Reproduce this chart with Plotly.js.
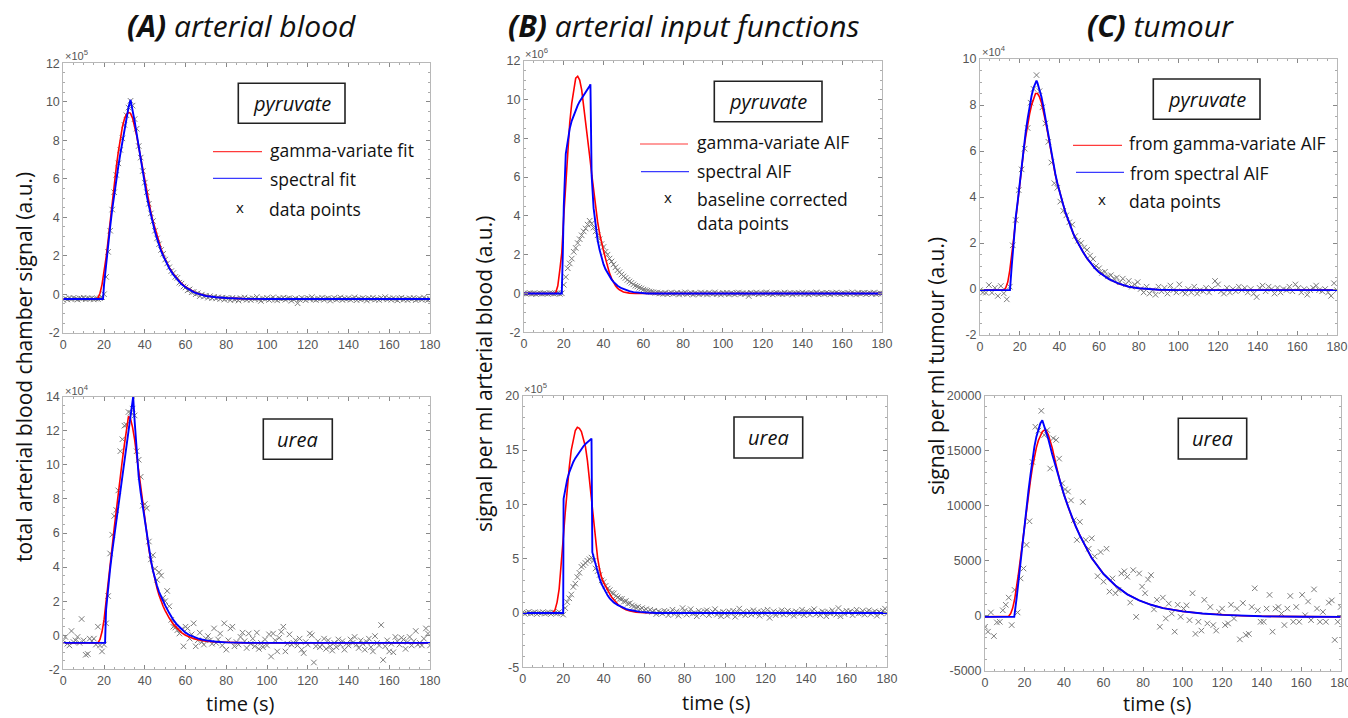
<!DOCTYPE html>
<html><head><meta charset="utf-8">
<script src="https://cdn.plot.ly/plotly-3.0.1.min.js"></script>
<style>html,body{margin:0;padding:0;background:#fff;}#chart{width:1348px;height:718px;}</style>
</head><body><div id="chart"></div>
<script>
// ---------------- DATA ----------------
// sampling of measured points (s)
const DT_BLOOD = 1;      // panels A and B
const DT_TUMOUR = 1.5;   // panel C

// (A) arterial blood, pyruvate (x10^5)
const A_PYR_POINTS = [
-0.30,-0.22,-0.27,-0.20,-0.25,-0.19,-0.24,-0.28,-0.21,-0.23,-0.18,-0.26,-0.22,-0.24,-0.20,-0.27,-0.23,-0.25,-0.21,-0.15,
0.00,0.90,2.20,3.30,4.40,5.30,6.20,6.80,7.50,8.10,8.80,9.30,9.70,10.05,9.80,9.10,8.60,7.70,7.10,6.40,
5.80,5.30,4.70,4.20,3.80,3.30,2.90,2.60,2.30,2.10,1.80,1.60,1.40,1.20,1.10,0.90,0.85,0.60,0.55,0.40,
0.35,0.20,0.25,0.10,0.12,0.00,0.05,-0.10,-0.02,-0.12,-0.08,-0.18,-0.10,-0.20,-0.14,-0.22,-0.16,-0.25,-0.18,-0.28,-0.20,
-0.22,-0.31,-0.19,-0.27,-0.24,-0.33,-0.20,-0.26,-0.17,-0.29,
-0.23,-0.30,-0.21,-0.25,-0.14,-0.28,-0.35,-0.22,-0.26,-0.19,
-0.30,-0.24,-0.16,-0.27,-0.32,-0.21,-0.25,-0.18,-0.29,-0.23,
-0.20,-0.34,-0.26,-0.22,-0.47,-0.28,-0.19,-0.25,-0.31,-0.20,
-0.24,-0.15,-0.27,-0.30,-0.22,-0.26,-0.18,-0.29,-0.23,-0.21,
-0.33,-0.25,-0.19,-0.28,-0.24,-0.17,-0.30,-0.22,-0.26,-0.20,
-0.29,-0.24,-0.16,-0.31,-0.23,-0.27,-0.20,-0.25,-0.33,-0.21,
-0.26,-0.18,-0.28,-0.24,-0.30,-0.19,-0.25,-0.15,-0.27,-0.22,
-0.29,-0.20,-0.26,-0.32,-0.23,-0.18,-0.28,-0.24,-0.30,-0.21,
-0.26,-0.19,-0.31,-0.25,-0.22,-0.28,-0.17,-0.27,-0.30,-0.24];
const A_PYR_GAMMA_T = [0,10,16,17,18,19,20,21,22,23,24,25,26,27,28,29,30,31,32,33,34,35,36,37,38,39,40,41,42,43,44,45,46,47,48,49,50,52,54,56,58,60,62,64,66,68,70,75,80,90,100,180];
const A_PYR_GAMMA = [-0.25,-0.25,-0.25,-0.2,0.05,0.5,1.1,1.9,2.8,3.8,4.8,5.7,6.6,7.4,8.1,8.7,9.1,9.35,9.45,9.4,9.15,8.75,8.25,7.65,7.05,6.45,5.85,5.3,4.75,4.25,3.8,3.4,3.0,2.65,2.35,2.05,1.8,1.38,1.05,0.78,0.56,0.38,0.24,0.13,0.04,-0.03,-0.08,-0.16,-0.2,-0.24,-0.25,-0.25];
const A_PYR_SPEC_T = [0,10,19.5,20,21,22,23,24,25,26,27,28,29,30,31,32,33,34,35,36,37,38,39,40,41,42,43,44,45,46,47,48,49,50,52,54,56,58,60,62,64,66,68,70,75,80,90,100,180];
const A_PYR_SPEC = [-0.25,-0.25,-0.25,0.5,1.6,2.6,3.5,4.4,5.2,5.95,6.65,7.3,7.95,8.6,9.2,9.7,10.1,9.6,9.0,8.35,7.65,6.95,6.3,5.7,5.1,4.6,4.1,3.65,3.25,2.9,2.55,2.25,2.0,1.75,1.35,1.02,0.75,0.53,0.36,0.22,0.11,0.03,-0.04,-0.09,-0.16,-0.2,-0.24,-0.25,-0.25];

// (A) arterial blood, urea (x10^4)
const A_UREA_POINTS = [
-0.30,-0.10,-0.50,-0.60,0.25,-0.40,-0.30,-0.10,-0.45,0.95,
-0.30,-1.15,-1.10,-0.20,-0.35,-0.20,-0.55,0.50,-0.60,-0.95,
-0.55,0.70,2.30,4.80,5.90,7.00,7.35,8.50,10.80,11.50,
12.30,12.35,13.10,13.05,13.30,12.90,10.80,10.30,9.30,7.60,
7.70,7.45,5.50,4.45,4.70,3.90,3.25,3.70,3.50,2.20,
2.00,2.60,1.70,0.90,0.50,0.45,0.30,0.10,0.35,-0.65,
0.50,0.40,-0.20,0.05,0.70,-0.65,-0.30,0.15,-0.40,-0.55,
-0.20,-0.05,-0.30,-0.50,0.40,-0.45,-0.25,0.10,-0.60,0.70,
-0.85,-0.30,0.40,0.50,-0.65,-0.40,-0.55,-0.10,0.15,-0.35,
-0.75,0.10,-0.50,-0.20,-0.65,0.15,-0.80,-0.45,-0.70,-0.25,
-0.60,0.05,-1.25,0.10,-0.30,-0.95,-0.15,0.20,0.50,-0.95,
-0.50,0.05,-0.55,-0.45,-0.30,-0.60,-0.20,-0.85,-1.05,-0.40,
-0.55,0.10,0.00,-1.60,-0.65,-0.35,-0.70,-0.55,-0.20,-0.80,
-0.30,-0.65,-0.90,-0.45,-0.70,-0.25,-0.55,-0.35,-0.85,-0.50,
-0.60,-0.25,-0.45,-0.10,-0.55,-0.75,-0.30,-0.50,-0.85,-0.40,
-0.20,-0.70,-0.95,-0.05,-0.45,-0.60,0.60,-1.45,-0.65,-0.30,
-0.95,-0.50,-1.00,-0.10,-0.35,-0.55,-0.15,-0.25,-0.80,-0.40,
-0.10,-0.60,-0.35,0.25,-0.55,-0.45,-0.60,-0.20,0.40,0.10,
-0.60];
const A_UREA_GAMMA_T = [0,10,17,18,19,20,21,22,23,24,25,26,27,28,29,30,31,32,33,34,35,36,37,38,39,40,41,42,43,44,45,46,47,48,49,50,52,54,56,58,60,62,64,66,68,70,75,80,90,180];
const A_UREA_GAMMA = [-0.45,-0.45,-0.45,-0.25,0.2,0.9,1.9,3.0,4.1,5.2,6.3,7.4,8.4,9.4,10.3,11.2,12.2,12.85,12.7,12.2,11.5,10.6,9.6,8.6,7.6,6.7,5.85,5.05,4.35,3.75,3.2,2.75,2.35,2.0,1.7,1.45,1.0,0.65,0.37,0.15,0.0,-0.12,-0.2,-0.27,-0.32,-0.35,-0.4,-0.43,-0.45,-0.45];
const A_UREA_SPEC_T = [0,10,20.5,21,22,23,24,25,26,27,28,29,30,31,32,33,34,34.3,35,36,37,38,39,40,41,42,43,44,45,46,47,48,49,50,52,54,56,58,60,62,64,66,68,70,75,80,90,180];
const A_UREA_SPEC = [-0.45,-0.45,-0.45,1.5,2.9,3.9,4.9,5.8,6.7,7.6,8.5,9.4,10.2,11.0,11.9,12.8,13.7,14.0,12.6,10.7,9.3,8.35,7.5,6.7,5.9,5.1,4.4,3.8,3.3,2.9,2.55,2.25,2.0,1.75,1.3,0.9,0.6,0.35,0.15,0.0,-0.1,-0.18,-0.25,-0.3,-0.38,-0.42,-0.45,-0.45];

// (B) arterial input functions, pyruvate (x10^6)
const B_PYR_POINTS = [
0.01,-0.02,0.00,0.02,-0.01,0.01,-0.03,0.00,0.02,-0.01,
0.01,0.00,-0.02,0.02,0.01,-0.01,0.00,0.02,-0.02,0.01,
0.45,0.85,1.30,1.55,1.80,2.15,2.35,2.60,2.80,3.00,
3.20,3.35,3.55,3.75,3.60,3.40,3.20,3.00,2.80,2.55,
2.40,2.15,2.00,1.80,1.65,1.50,1.35,1.20,1.10,0.98,
0.88,0.80,0.70,0.62,0.55,0.47,0.40,0.36,0.30,0.26,
0.20,0.17,0.14,0.10,0.08,0.06,0.03,0.05,0.00,0.02,
-0.02,
0.03,-0.04,0.01,0.05,-0.02,0.00,0.04,-0.05,0.02,-0.01,
0.06,-0.03,0.01,0.03,-0.06,0.02,0.00,-0.04,0.05,-0.01,
0.02,-0.05,0.04,0.00,-0.02,0.06,-0.03,0.01,-0.06,0.03,
-0.01,0.04,-0.04,0.02,0.00,-0.05,0.03,0.05,-0.02,0.01,
-0.03,0.02,-0.13,0.04,-0.01,0.00,0.05,-0.04,0.02,-0.02,
0.03,0.06,-0.03,0.01,-0.05,0.02,0.04,-0.01,0.00,-0.04,
0.05,-0.02,0.01,0.03,-0.06,0.02,0.00,0.04,-0.03,0.05,
-0.01,0.02,-0.05,0.03,0.01,-0.02,0.06,-0.04,0.00,0.02,
-0.03,0.04,0.01,-0.05,0.03,-0.01,0.05,0.00,-0.04,0.02,
0.01,-0.03,0.04,-0.02,0.06,0.00,-0.05,0.03,-0.01,0.02,
0.04,-0.04,0.01,0.03,-0.02,0.05,-0.03,0.00,0.02,-0.01];
const B_PYR_GAMMA_T = [0,10,15,16,17,18,19,20,21,22,23,24,25,26,27,28,29,30,31,32,33,34,35,36,37,38,39,40,41,42,43,44,45,46,47,48,50,53,56,180];
const B_PYR_GAMMA = [0,0,0,0.05,0.4,1.2,2.1,4.0,5.8,7.5,8.8,9.8,10.6,11.1,11.2,11.0,10.5,9.7,8.9,8.0,7.1,6.2,5.3,4.4,3.7,3.1,2.6,2.2,1.8,1.4,1.05,0.78,0.55,0.4,0.28,0.19,0.08,0.02,0,0];
const B_PYR_SPEC_T = [0,10,19,19.5,20,21,22,23,24,25,26,27,28,29,30,31,32,33,33.4,33.8,34,35,36,37,38,39,40,41,42,43,44,45,47,49,51,53,55,58,62,180];
const B_PYR_SPEC = [0,0,0,2.0,4.5,7.2,8.0,8.5,8.9,9.2,9.45,9.7,9.9,10.05,10.25,10.4,10.55,10.7,10.78,6.9,6.1,4.4,3.4,2.75,2.25,1.85,1.5,1.25,1.05,0.88,0.73,0.6,0.4,0.27,0.18,0.12,0.07,0.03,0,0];

// (B) arterial input functions, urea (x10^5)
const B_UREA_POINTS = [
0.05,-0.08,0.02,0.10,-0.05,0.00,0.07,-0.10,0.03,-0.02,
0.08,-0.06,0.01,0.04,-0.09,0.06,0.00,-0.03,0.09,-0.05,
-0.15,0.45,1.00,1.35,1.70,2.40,2.70,3.30,3.70,4.25,
4.40,4.60,4.80,4.95,5.10,4.80,4.10,3.85,3.50,3.00,
2.85,2.50,2.25,2.10,1.85,1.80,1.55,1.45,1.30,1.30,
1.05,1.10,0.85,0.90,0.70,0.60,0.50,0.55,0.35,0.45,
0.25,0.35,0.15,0.30,0.10,0.20,-0.10,0.15,0.05,-0.05,
0.20,
0.10,-0.20,0.05,0.30,-0.10,0.15,-0.25,0.00,0.45,0.20,
-0.15,0.10,0.35,-0.05,0.00,-0.30,0.20,0.05,-0.10,0.15,
0.25,-0.20,0.00,0.10,0.35,-0.15,0.05,-0.30,0.10,0.00,
-0.25,0.15,-0.05,0.20,-0.35,0.05,0.40,-0.10,0.10,-0.20,
0.00,0.15,-0.15,0.25,-0.05,0.10,-0.25,0.05,0.20,-0.10,
0.30,-0.45,0.00,0.15,-0.20,0.10,-0.05,0.25,-0.15,0.05,
0.20,-0.10,0.10,-0.25,0.15,0.00,-0.05,0.30,-0.20,0.10,
0.05,-0.15,0.20,0.35,-0.10,0.00,-0.20,0.15,0.05,-0.30,
0.10,-0.05,0.25,0.00,-0.15,0.45,-0.30,0.10,-0.10,0.20,
0.05,0.15,-0.20,0.10,0.30,-0.05,0.00,0.20,-0.15,0.10,
0.25,-0.10,0.05,0.15,-0.25,0.10,0.00,0.20,0.40,-0.05];
const B_UREA_GAMMA_T = [0,10,14,15,16,17,18,19,20,21,22,23,24,25,26,27,28,29,30,31,32,33,34,35,36,37,38,39,40,41,42,43,44,45,47,49,51,53,56,60,180];
const B_UREA_GAMMA = [0,0,0,0.05,0.3,1.0,2.2,4.2,6.8,9.2,11.5,13.4,15.0,16.1,16.8,17.1,17.0,16.7,16.1,15.3,14.0,12.2,10.1,8.2,6.5,5.1,4.0,3.25,2.8,2.4,2.05,1.75,1.45,1.2,0.8,0.5,0.3,0.18,0.08,0.02,0];
const B_UREA_SPEC_T = [0,10,20,20.2,21,22,23,24,25,26,27,28,29,30,31,32,33,34,34.4,35,36,37,38,39,40,41,42,43,44,45,47,49,51,53,55,58,62,66,180];
const B_UREA_SPEC = [0,0,0,10.5,11.4,12.3,12.95,13.45,13.9,14.25,14.55,14.85,15.1,15.35,15.55,15.75,15.9,16.05,5.6,5.2,4.3,3.7,3.15,2.65,2.25,1.9,1.6,1.35,1.15,0.97,0.72,0.52,0.38,0.27,0.19,0.1,0.04,0,0];

// (C) tumour, pyruvate (x10^4)
const C_PYR_POINTS = [
-0.05,-0.15,-0.16,0.17,-0.16,0.05,-0.30,0.13,-0.19,-0.45,
0.10,1.90,3.00,4.30,5.20,6.10,7.00,8.10,8.70,9.30,
8.60,7.90,7.20,6.40,5.50,4.60,4.40,3.80,3.40,3.20,
2.90,2.80,2.30,2.10,2.00,1.80,1.70,1.45,1.30,1.00,
0.90,0.70,0.75,0.55,0.60,0.45,0.50,0.30,0.45,0.20,
0.35,0.10,0.20,0.30,0.00,-0.15,0.10,-0.20,-0.05,-0.25,
0.10,
-0.10,0.05,-0.20,0.15,-0.05,-0.15,0.20,-0.10,-0.20,0.00,
-0.15,0.10,-0.20,-0.05,-0.10,0.05,-0.15,0.00,0.35,0.20,
-0.10,-0.20,0.05,-0.15,0.00,-0.10,0.10,-0.05,0.05,-0.15,
0.00,-0.20,-0.35,0.05,0.15,-0.10,0.10,0.00,-0.20,0.05,
-0.15,0.00,-0.05,0.10,-0.10,0.20,0.05,-0.15,0.00,-0.25,
-0.05,0.05,0.15,-0.05,-0.10,0.00,-0.15,-0.30,0.25,-0.05];
const C_PYR_GAMMA_T = [0,10,12,13,14,15,16,17,18,19,20,21,22,23,24,25,26,27,28,29,30,31,32,33,34,35,36,37,38,39,40,41,42,43,44,45,46,47,48,50,52,54,56,58,60,62,65,70,75,80,90,100,180];
const C_PYR_GAMMA = [-0.05,-0.05,-0.05,0.05,0.3,0.8,1.4,2.2,3.0,3.8,4.6,5.3,6.0,6.6,7.15,7.6,8.0,8.3,8.5,8.5,8.35,8.1,7.75,7.3,6.85,6.35,5.85,5.35,4.95,4.6,4.25,3.95,3.65,3.35,3.1,2.85,2.62,2.42,2.22,1.9,1.6,1.33,1.1,0.9,0.73,0.6,0.43,0.23,0.1,0.03,-0.03,-0.05,-0.05];
const C_PYR_SPEC_T = [0,10,15.1,16,17,18,19,20,21,22,23,24,25,26,27,28,28.5,29,30,31,32,33,34,35,36,37,38,39,40,41,42,43,44,45,46,47,48,50,52,54,56,58,60,62,65,70,75,80,90,100,180];
const C_PYR_SPEC = [-0.05,-0.05,-0.05,1.0,2.2,3.1,3.8,4.6,5.4,6.15,6.8,7.4,7.95,8.4,8.75,9.0,9.06,8.95,8.7,8.35,7.9,7.4,6.9,6.4,5.9,5.4,5.0,4.6,4.25,3.95,3.65,3.35,3.1,2.85,2.62,2.42,2.22,1.9,1.6,1.33,1.1,0.9,0.73,0.6,0.43,0.23,0.1,0.03,-0.03,-0.05,-0.05];

// (C) tumour, urea (signal)
const C_UREA_POINTS = [
-1000,-1450,300,-1850,-600,-550,500,1000,1650,-850,
2350,300,3400,4300,6450,8600,14000,17200,16850,18650,
16450,16900,13400,16150,16000,14300,12050,11500,11300,10500,
8700,6900,8550,10350,6900,6100,7050,5400,3600,5800,
3100,6100,2200,3400,2050,2350,3850,4050,3550,1200,
4150,-100,3850,2650,2050,3300,3700,580,1450,-1000,
1650,-250,1100,200,-1450,1000,-100,650,950,-400,
2050,-1650,-550,-1350,1450,-700,800,-850,-1350,350,
650,-850,-700,1000,-250,650,-2150,1150,-1750,-1650,
800,2500,500,-550,-550,650,1900,-1450,650,800,
200,-850,650,1800,-550,800,-550,1900,50,1300,
-400,2400,650,-550,350,-550,1200,1400,-2200,-550,
800];
const C_UREA_GAMMA_T = [0,11,12,13,14,15,16,17,18,19,20,21,22,23,24,25,26,27,28,29,30,31,32,33,34,36,38,40,42,44,46,48,50,54,60,66,72,78,84,90,100,110,120,130,140,160,180];
const C_UREA_GAMMA = [-100,-100,-50,200,700,1500,2600,3900,5300,6800,8200,9600,11000,12300,13500,14500,15300,15950,16450,16750,16900,16850,16500,16000,15300,13700,12200,11000,9900,8950,8100,7300,6600,5250,3800,2750,1950,1400,1000,700,400,200,80,0,-50,-90,-100];
const C_UREA_SPEC_T = [0,14.8,16,17,18,19,20,21,22,23,24,25,26,27,28,29,30,31,32,34,36,38,40,42,44,46,48,50,54,60,66,72,78,84,90,100,110,120,130,140,160,180];
const C_UREA_SPEC = [-100,-100,1600,3300,5000,6600,8300,9900,11400,12800,14200,15400,16300,17000,17500,17800,17300,16700,16100,14700,13400,12150,11000,9950,8980,8100,7300,6600,5250,3800,2750,1950,1400,1000,700,400,200,80,0,-50,-90,-100];

// axis ticks
const TIME_TICKS = [0,20,40,60,80,100,120,140,160,180];
const A_PYR_YTICKS = [-2,0,2,4,6,8,10,12];
const A_UREA_YTICKS = [-2,0,2,4,6,8,10,12,14];
const B_PYR_YTICKS = [-2,0,2,4,6,8,10,12];
const B_UREA_YTICKS = [-5,0,5,10,15,20];
const C_PYR_YTICKS = [-2,0,2,4,6,8,10];
const C_UREA_YTICKS = [-5000,0,5000,10000,15000,20000];

// ---------------- LAYOUT HELPERS ----------------
const W = 1348, H = 718;
const px = x => x / W;
const py = y => 1 - y / H;
const RED = '#ff0000', BLUE = '#0000ff';
const TICKFONT = {family: 'Liberation Sans Narrow, Liberation Sans, Arial, sans-serif', size: 12.5, color: '#555'};
const TEXTFONT = 'Open Sans, Liberation Sans, sans-serif';

function xAxis(x0, x1, anchor) {
  return {domain: [px(x0), px(x1)], anchor: anchor, range: [0, 180], autorange: false,
    tickmode: 'array', tickvals: TIME_TICKS, ticktext: TIME_TICKS.map(String),
    ticks: 'inside', ticklen: 4, tickcolor: '#888', tickwidth: 1,
    minor: {ticks: 'inside', ticklen: 2, dtick: 5, tick0: 0, tickcolor: '#aaa'},
    showline: true, linecolor: '#b8b8b8', linewidth: 1, mirror: 'ticks',
    ticklabeloverflow: 'allow',
    showgrid: false, zeroline: false, tickfont: TICKFONT, fixedrange: true};
}
function yAxis(y0, y1, anchor, ticks, minorStep) {
  return {domain: [py(y1), py(y0)], anchor: anchor, range: [ticks[0], ticks[ticks.length - 1]], autorange: false,
    tickmode: 'array', tickvals: ticks, ticktext: ticks.map(String),
    ticks: 'inside', ticklen: 4, tickcolor: '#888', tickwidth: 1,
    minor: {ticks: 'inside', ticklen: 2, dtick: minorStep, tick0: 0, tickcolor: '#aaa'},
    showline: true, linecolor: '#b8b8b8', linewidth: 1, mirror: 'ticks',
    ticklabeloverflow: 'allow',
    showgrid: false, zeroline: false, tickfont: TICKFONT, fixedrange: true};
}

function pointsTrace(y, dx, ax) {
  return {type: 'scatter', mode: 'markers', x0: 0, dx: dx, y: y, xaxis: 'x' + ax, yaxis: 'y' + ax,
    marker: {symbol: 'x-thin-open', size: 5.5, color: '#666', line: {color: '#666', width: 1}},
    opacity: 0.85, showlegend: false, hoverinfo: 'skip'};
}
function lineTrace(x, y, color, width, ax) {
  return {type: 'scatter', mode: 'lines', x: x, y: y, xaxis: 'x' + ax, yaxis: 'y' + ax,
    line: {color: color, width: width}, showlegend: false, hoverinfo: 'skip'};
}

const data = [
  pointsTrace(A_PYR_POINTS, DT_BLOOD, ''),
  lineTrace(A_PYR_GAMMA_T, A_PYR_GAMMA, RED, 1.6, ''),
  lineTrace(A_PYR_SPEC_T, A_PYR_SPEC, BLUE, 1.9, ''),
  pointsTrace(A_UREA_POINTS, DT_BLOOD, '2'),
  lineTrace(A_UREA_GAMMA_T, A_UREA_GAMMA, RED, 1.6, '2'),
  lineTrace(A_UREA_SPEC_T, A_UREA_SPEC, BLUE, 1.9, '2'),
  pointsTrace(B_PYR_POINTS, DT_BLOOD, '3'),
  lineTrace(B_PYR_GAMMA_T, B_PYR_GAMMA, RED, 1.6, '3'),
  lineTrace(B_PYR_SPEC_T, B_PYR_SPEC, BLUE, 1.9, '3'),
  pointsTrace(B_UREA_POINTS, DT_BLOOD, '4'),
  lineTrace(B_UREA_GAMMA_T, B_UREA_GAMMA, RED, 1.6, '4'),
  lineTrace(B_UREA_SPEC_T, B_UREA_SPEC, BLUE, 1.9, '4'),
  pointsTrace(C_PYR_POINTS, DT_TUMOUR, '5'),
  lineTrace(C_PYR_GAMMA_T, C_PYR_GAMMA, RED, 1.6, '5'),
  lineTrace(C_PYR_SPEC_T, C_PYR_SPEC, BLUE, 1.9, '5'),
  pointsTrace(C_UREA_POINTS, DT_TUMOUR, '6'),
  lineTrace(C_UREA_GAMMA_T, C_UREA_GAMMA, RED, 1.6, '6'),
  lineTrace(C_UREA_SPEC_T, C_UREA_SPEC, BLUE, 1.9, '6')
];

// annotations
function txt(text, x, y, size, opts) {
  return Object.assign({text: text, xref: 'paper', yref: 'paper', x: px(x), y: py(y),
    xanchor: 'center', yanchor: 'middle', showarrow: false,
    font: {family: TEXTFONT, size: size, color: '#111'}}, opts || {});
}
function ital(text, x, y, size) {
  return txt(text, x, y, size, {font: {family: TEXTFONT, size: size, color: '#111', style: 'italic'}});
}
function left(text, x, y, size) {
  return txt(text, x, y, size, {xanchor: 'left'});
}
function expo(text, x, y) {
  return txt(text, x, y, 11, {xanchor: 'left', font: {family: 'Liberation Sans, Arial, sans-serif', size: 11, color: '#555'}});
}

const annotations = [
  ital('<b>(A)</b> arterial blood', 241.7, 25, 30),
  ital('<b>(B)</b> arterial input functions', 683.3, 25, 30),
  ital('<b>(C)</b> tumour', 1160.8, 25, 30),
  txt('total arterial blood chamber signal (a.u.)', 24, 367, 21, {textangle: -90}),
  txt('signal per ml arterial blood (a.u.)', 484, 374, 21, {textangle: -90}),
  txt('signal per ml tumour (a.u.)', 936, 366, 21, {textangle: -90}),
  txt('time (s)', 240.3, 703, 20),
  txt('time (s)', 716, 702, 20),
  txt('time (s)', 1157, 703, 20),
  expo('×10<sup>5</sup>', 63, 55),
  expo('×10<sup>4</sup>', 63, 390),
  expo('×10<sup>6</sup>', 523, 53),
  expo('×10<sup>5</sup>', 522, 388),
  expo('×10<sup>4</sup>', 980, 51),
  ital('pyruvate', 291.7, 103.3, 20),
  ital('urea', 297.8, 439.2, 20),
  ital('pyruvate', 768.2, 101.5, 20),
  ital('urea', 768.3, 437.5, 20),
  ital('pyruvate', 1206.7, 99.2, 20),
  ital('urea', 1212.5, 438.7, 20),
  left('gamma-variate fit', 268, 150, 17.5),
  left('spectral fit', 268, 179, 17.5),
  txt('x', 240, 207, 15),
  left('data points', 267, 209, 17.5),
  left('gamma-variate AIF', 695, 142, 17.5),
  left('spectral AIF', 695, 171, 17.5),
  txt('x', 668, 197, 15),
  left('baseline corrected', 695, 199, 17.5),
  left('data points', 695, 223, 17.5),
  left('from gamma-variate AIF', 1127, 143, 17.5),
  left('from spectral AIF', 1128, 173, 17.5),
  txt('x', 1102, 199, 15),
  left('data points', 1127, 201, 17.5)
];

function box(x0, y0, x1, y1) {
  return {type: 'rect', xref: 'paper', yref: 'paper', x0: px(x0), x1: px(x1), y0: py(y1), y1: py(y0),
    line: {color: '#222', width: 1.6}, fillcolor: 'rgba(0,0,0,0)'};
}
function sample(x0, x1, y, color) {
  return {type: 'line', xref: 'paper', yref: 'paper', x0: px(x0), x1: px(x1), y0: py(y), y1: py(y),
    line: {color: color, width: 1.2}};
}
const shapes = [
  box(238.3, 83.3, 345, 123.3),
  box(263.3, 419, 332.3, 459.3),
  box(714.3, 81.3, 822, 121.7),
  box(734, 417, 802.7, 458),
  box(1153.3, 79, 1260, 119.3),
  box(1178.3, 418.3, 1246.7, 459),
  sample(213, 262, 151.7, '#ff3b3b'),
  sample(213, 262, 178.3, '#3b3bff'),
  sample(640, 688, 144, '#ff3b3b'),
  sample(641, 689, 171.7, '#3b3bff'),
  sample(1073, 1122, 145.3, '#ff3b3b'),
  sample(1076, 1124, 172.3, '#3b3bff')
];

const layout = {
  width: W, height: H, margin: {l: 0, r: 0, t: 0, b: 0},
  paper_bgcolor: '#fff', plot_bgcolor: '#fff', showlegend: false,
  xaxis: xAxis(63.3, 430, 'y'),  yaxis: yAxis(63.3, 332.7, 'x', A_PYR_YTICKS, 0.5),
  xaxis2: xAxis(63.3, 430, 'y2'), yaxis2: yAxis(396.7, 669.3, 'x2', A_UREA_YTICKS, 0.5),
  xaxis3: xAxis(524, 882, 'y3'), yaxis3: yAxis(60.7, 332.3, 'x3', B_PYR_YTICKS, 0.5),
  xaxis4: xAxis(522.7, 887, 'y4'), yaxis4: yAxis(395.7, 667.3, 'x4', B_UREA_YTICKS, 1),
  xaxis5: xAxis(980, 1337, 'y5'), yaxis5: yAxis(59, 335, 'x5', C_PYR_YTICKS, 0.5),
  xaxis6: xAxis(985, 1340.7, 'y6'), yaxis6: yAxis(396, 670.7, 'x6', C_UREA_YTICKS, 1000),
  annotations: annotations, shapes: shapes
};

Plotly.newPlot('chart', data, layout, {displayModeBar: false, staticPlot: true});
</script></body></html>
